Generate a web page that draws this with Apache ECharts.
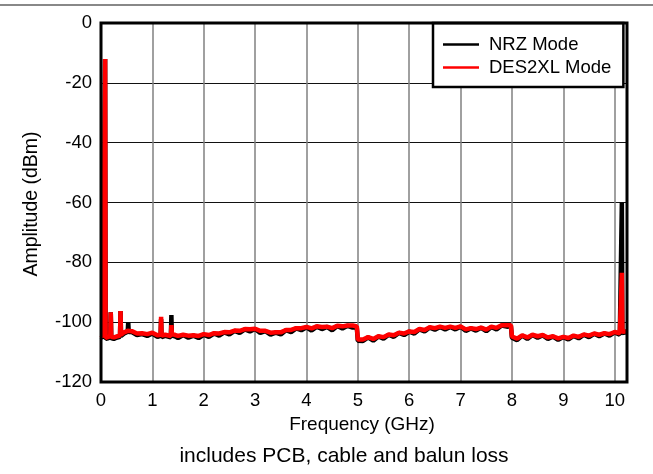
<!DOCTYPE html>
<html>
<head>
<meta charset="utf-8">
<script src="https://cdn.jsdelivr.net/npm/echarts@6/dist/echarts.min.js"></script>
<style>
html,body{margin:0;padding:0;background:#fff;}
#chart{width:653px;height:474px;}
</style>
</head>
<body>
<div id="chart"></div>
<script>
// Frequency points (GHz)
const freq = [
  0, 0.04, 0.07, 0.08, 0.09, 0.13, 0.18, 0.19, 0.20, 0.25, 0.30, 0.37, 0.38, 0.39, 0.45, 0.52, 0.53, 0.54,
  0.60, 0.70, 0.80, 0.90, 1.00, 1.10, 1.16, 1.17, 1.18, 1.25, 1.36, 1.37, 1.38, 1.45,
  1.5, 1.6, 1.7, 1.8, 1.9, 2.0, 2.1, 2.2, 2.3, 2.4, 2.5, 2.6, 2.7, 2.8, 2.9, 3.0, 3.1, 3.2, 3.3, 3.4,
  3.5, 3.6, 3.7, 3.8, 3.9, 4.0, 4.1, 4.2, 4.3, 4.4, 4.5, 4.6, 4.7, 4.8, 4.9,
  4.98, 5.00,
  5.1, 5.2, 5.3, 5.4, 5.5, 5.6, 5.7, 5.8, 5.9, 6.0, 6.1, 6.2, 6.3, 6.4, 6.5, 6.6, 6.7, 6.8, 6.9, 7.0,
  7.1, 7.2, 7.3, 7.4, 7.5, 7.6, 7.7, 7.8, 7.9,
  7.98, 8.00,
  8.1, 8.2, 8.3, 8.4, 8.5, 8.6, 8.7, 8.8, 8.9, 9.0, 9.1, 9.2, 9.3, 9.4, 9.5, 9.6, 9.7, 9.8, 9.9, 10.0, 10.1,
  10.13, 10.14, 10.15, 10.20, 10.24
];
// NRZ Mode amplitude (dBm)
const nrzMode = [
  -104.8, -105.3, -105.2, -12, -105.6, -105.4, -105.1, -96.7, -105.3, -105.6, -105.2, -104.9, -96.3, -104.6, -103.8, -103.2, -100.0, -103.3,
  -103.3, -104.3, -104.0, -104.6, -103.8, -104.9, -104.6, -99.0, -105.0, -104.6, -105.1, -97.6, -104.4, -104.8,
  -105.3, -104.3, -105.2, -104.5, -105.3, -104.2, -104.9, -103.8, -104.5, -103.4, -104.1, -102.9, -103.6, -102.4, -103.1, -102.3, -103.6, -103.0, -104.2, -103.5,
  -104.1, -102.7, -103.3, -102.1, -102.7, -101.7, -102.8, -101.5, -102.3, -101.6, -102.7, -101.3, -102.1, -101.2, -101.8,
  -101.8, -106.2,
  -106.3, -105.1, -106.2, -104.8, -105.5, -104.2, -104.9, -103.6, -104.3, -103.2, -103.8, -102.4, -103.1, -101.8, -102.5, -101.6, -102.4, -101.6, -102.4, -101.5,
  -102.9, -102.1, -102.8, -101.9, -103.0, -101.6, -102.4, -101.1, -101.5,
  -101.3, -105.2,
  -106.0, -104.5, -105.6, -104.3, -105.2, -104.4, -105.6, -104.8, -105.9, -105.0, -105.8, -104.6, -105.4, -104.2, -105.0, -103.9, -104.7, -103.8, -104.5, -103.4, -104.2,
  -103.8, -60.0, -103.6, -103.5, -103.4
];
// DES2XL Mode amplitude (dBm)
const des2xlMode = [
  -104.3, -104.9, -104.8, -12, -105.2, -105.0, -104.7, -96.7, -104.9, -105.1, -104.8, -104.5, -96.3, -104.2, -103.4, -102.9, -102.8, -103.0,
  -103.0, -103.8, -103.7, -104.0, -103.5, -104.4, -104.2, -98.2, -104.5, -104.2, -104.6, -101.0, -104.0, -104.3,
  -104.6, -104.2, -104.5, -104.4, -104.6, -104.0, -104.3, -103.7, -103.8, -103.3, -103.4, -102.8, -102.9, -102.3, -102.4, -102.2, -102.9, -102.9, -103.5, -103.4,
  -103.4, -102.6, -102.6, -102.0, -102.0, -101.6, -102.1, -101.4, -101.6, -101.5, -102.0, -101.2, -101.4, -101.1, -101.1,
  -101.4, -105.8,
  -105.8, -105.0, -105.6, -104.7, -105.0, -104.1, -104.4, -103.5, -103.8, -103.1, -103.3, -102.3, -102.6, -101.7, -102.0, -101.5, -101.9, -101.5, -101.9, -101.4,
  -102.4, -102.0, -102.3, -101.8, -102.5, -101.5, -101.9, -101.0, -101.0,
  -101.0, -104.8,
  -105.5, -104.4, -105.1, -104.2, -104.7, -104.3, -105.1, -104.7, -105.4, -104.9, -105.3, -104.5, -104.9, -104.1, -104.5, -103.8, -104.2, -103.7, -104.0, -103.3, -103.7,
  -103.4, -83.5, -103.2, -103.1, -103.0
];
const seriesNames = ['NRZ Mode', 'DES2XL Mode'];
const xTitle = 'Frequency (GHz)';
const yTitle = 'Amplitude (dBm)';
const note = 'includes PCB, cable and balun loss';

const FONT = '"Liberation Sans", Arial, sans-serif';
const zip = (xs, ys) => xs.map((x, i) => [x, ys[i]]);

const chart = echarts.init(document.getElementById('chart'), null, {renderer: 'canvas'});
chart.setOption({
  animation: false,
  backgroundColor: '#fff',
  grid: {left: 101, top: 23, width: 526, height: 359, show: false},
  xAxis: {
    type: 'value', min: 0, max: 10.24, interval: 1,
    axisLine: {show: false}, axisTick: {show: false},
    axisLabel: {
      fontFamily: FONT, fontSize: 18.5, color: '#000', margin: 9,
      showMaxLabel: false,
      formatter: v => (Math.abs(v - Math.round(v)) < 1e-6 ? String(Math.round(v)) : '')
    },
    splitLine: {show: true, lineStyle: {color: '#808080', width: 1.5}}
  },
  yAxis: {
    type: 'value', min: -120, max: 0, interval: 20,
    axisLine: {show: false}, axisTick: {show: false},
    axisLabel: {fontFamily: FONT, fontSize: 18.5, color: '#000', margin: 9},
    splitLine: {show: true, lineStyle: {color: '#111', width: 1}}
  },
  legend: {
    orient: 'vertical', left: 433, top: 23,
    padding: [12, 12, 10, 10], itemGap: 4,
    itemWidth: 36, itemHeight: 2.5, icon: 'rect',
    backgroundColor: '#fff', borderColor: '#000', borderWidth: 2.5,
    textStyle: {fontFamily: FONT, fontSize: 18.5, color: '#000', lineHeight: 18, padding: [0, 0, 0, 5]},
    data: seriesNames
  },
  graphic: [
    {type: 'rect', left: 0, top: 4, shape: {width: 653, height: 2}, style: {fill: '#888'}, z: 100},
    {type: 'rect', shape: {x: 101, y: 23, width: 526, height: 359}, style: {fill: null, stroke: '#000', lineWidth: 3}, z: 50},
    {type: 'text', x: 362, y: 425, style: {text: xTitle, font: '19px ' + FONT, fill: '#000', align: 'center', verticalAlign: 'middle'}},
    {type: 'text', x: 344, y: 456, style: {text: note, font: '21px ' + FONT, fill: '#000', align: 'center', verticalAlign: 'middle'}},
    {type: 'text', x: 32, y: 204, rotation: Math.PI / 2, style: {text: yTitle, font: '19.5px ' + FONT, fill: '#000', align: 'center', verticalAlign: 'middle'}}
  ],
  series: [
    {name: seriesNames[0], type: 'line', data: zip(freq, nrzMode), symbol: 'none',
     lineStyle: {color: '#000', width: 4.5}, itemStyle: {color: '#000'}, z: 2},
    {name: seriesNames[1], type: 'line', data: zip(freq, des2xlMode), symbol: 'none',
     lineStyle: {color: '#ff0000', width: 4.5}, itemStyle: {color: '#ff0000'}, z: 3}
  ]
});
</script>
</body>
</html>
